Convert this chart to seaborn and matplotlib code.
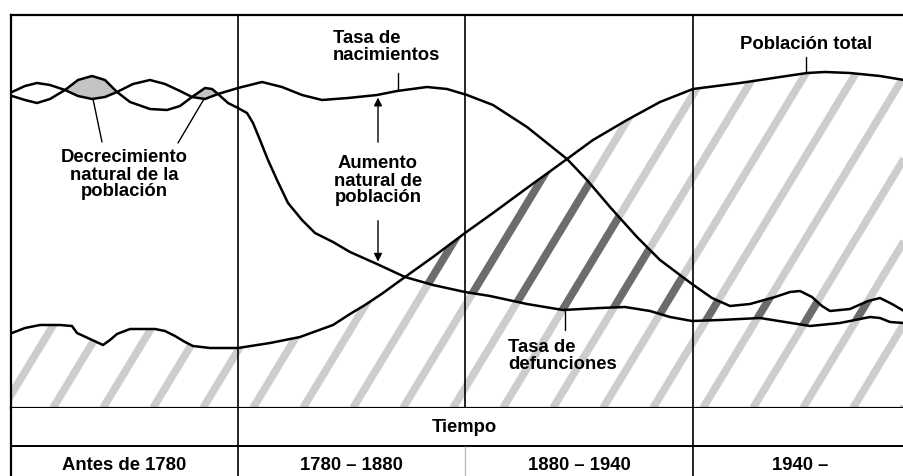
import numpy as np
import matplotlib
matplotlib.use('Agg')
import matplotlib.pyplot as plt
import seaborn as sns
from matplotlib.path import Path

# =========================
# Data (generic time units on x, relative level on y)
# =========================
birth_x = [12, 25, 37, 50, 65, 78, 92, 105, 117, 133, 150, 165, 180, 192, 205, 218,
           238, 262, 282, 302, 322, 348, 377, 397, 427, 447, 467, 493, 527, 547, 567,
           587, 610, 637, 660, 692, 712, 730, 750, 775, 790, 800, 812, 822, 830, 850,
           868, 880, 892, 904]
birth_y = [316, 322, 325, 323, 318, 312, 309, 311, 316, 324, 328, 324, 317, 311, 309, 314,
           320, 326, 321, 313, 308, 310, 313, 317, 321, 319, 313, 303, 281, 265, 249,
           228, 201, 171, 148, 124, 110, 102, 104, 111, 116, 117, 111, 102, 97, 99,
           107, 110, 104, 97]

death_x = [12, 25, 37, 50, 65, 78, 92, 105, 117, 130, 150, 167, 180, 192, 205, 212,
           218, 228, 238, 247, 253, 260, 268, 277, 288, 302, 315, 333, 350, 377, 405,
           433, 465, 490, 527, 563, 600, 625, 650, 670, 692, 720, 760, 785, 810, 840,
           870, 880, 890, 904]
death_y = [312, 308, 305, 309, 318, 328, 332, 328, 316, 306, 299, 298, 302, 311, 320, 319,
           314, 305, 300, 295, 285, 268, 248, 228, 205, 188, 175, 166, 156, 144, 131,
           123, 116, 112, 104, 98, 100, 101, 97, 91, 87, 88, 90, 86, 82, 85,
           91, 90, 86, 85]

pop_x = [12, 25, 40, 60, 72, 77, 90, 103, 110, 117, 130, 155, 165, 175, 185, 193,
         210, 238, 270, 300, 333, 350, 365, 383, 405, 433, 465, 493, 527, 567, 593,
         627, 660, 693, 740, 780, 807, 825, 850, 880, 904]
pop_y = [75, 80, 83, 83, 82, 75, 69, 63, 68, 74, 79, 79, 77, 72, 66, 62,
         60, 60, 65, 71, 83, 94, 103, 115, 131, 151, 175, 195, 220, 249, 268,
         288, 306, 319, 325, 331, 335, 336, 335, 332, 328]

period_edges = [238, 465, 693]
period_labels = ['Antes de 1780', '1780 – 1880', '1880 – 1940', '1940 –']
period_centers = [124, 351, 579, 800]

# =========================
# Figure setup
# =========================
sns.set_theme(style='white')
plt.rcParams['font.family'] = ['Liberation Sans', 'DejaVu Sans']
FS = 13.3

fig = plt.figure(figsize=(9.04, 4.76), dpi=100)
ax = fig.add_axes([11 / 904, 68 / 476, 893 / 904, 393 / 476])
ax.set_xlim(11, 904)
ax.set_ylim(0, 393)
ax.set_xticks([])
ax.set_yticks([])
for side in ['left', 'top', 'bottom']:
    ax.spines[side].set_color('black')
    ax.spines[side].set_linewidth(1.6)
ax.spines['right'].set_visible(False)

# common grid for shaded regions
xg = np.linspace(11, 904, 1500)
bg = np.interp(xg, birth_x, birth_y)
dg = np.interp(xg, death_x, death_y)
pg = np.interp(xg, pop_x, pop_y)

# clip regions for the hatching
pop_px = np.array(pop_x, dtype=float)
pop_py = np.array(pop_y, dtype=float)
light_path = Path(np.column_stack([np.r_[pop_px, pop_px[::-1]],
                                   np.r_[pop_py, np.zeros(len(pop_py))]]))
top = np.minimum(bg, pg)
coll = ax.fill_between(xg, dg, top, where=top > dg, interpolate=True,
                       facecolor='none', edgecolor='none')
dark_path = Path.make_compound_path(*coll.get_paths())

# diagonal stripes under the population curve
slope = 1.65
spacing = 50
for x0 in np.arange(53 - spacing * 6, 904 + spacing, spacing):
    xs = [x0, x0 + 393 / slope]
    ys = [0, 393]
    ln, = ax.plot(xs, ys, color='#cdcdcd', lw=5.5, solid_capstyle='butt', zorder=1)
    ln.set_clip_path(light_path, ax.transData)
    ln2, = ax.plot(xs, ys, color='#6c6c6c', lw=5.5, solid_capstyle='butt', zorder=1.1)
    ln2.set_clip_path(dark_path, ax.transData)

# natural decrease lenses
ax.fill_between(xg, bg, dg, where=(dg > bg) & (xg < 238), interpolate=True,
                color='#c4c4c4', linewidth=0, zorder=1.5)

# curves
for cx, cy in [(birth_x, birth_y), (death_x, death_y), (pop_x, pop_y)]:
    sns.lineplot(x=cx, y=cy, ax=ax, color='black', lw=1.8, estimator=None,
                 sort=False, zorder=4, solid_joinstyle='round')

for xe in period_edges:
    ax.axvline(xe, color='black', lw=1.2, zorder=3)

# =========================
# Annotations
# =========================
txt = dict(fontsize=FS, fontweight='bold', color='black', linespacing=1.0, zorder=5)

ax.text(333, 361, 'Tasa de\nnacimientos', ha='left', va='center', **txt)
ax.plot([398, 398], [335, np.interp(398, birth_x, birth_y)], color='black', lw=1, zorder=4)

ax.text(806, 364, 'Población total', ha='center', va='center', **txt)
ax.plot([806, 806], [351, np.interp(806, pop_x, pop_y)], color='black', lw=1, zorder=4)

ax.text(378, 227, 'Aumento\nnatural de\npoblación', ha='center', va='center', **txt)
ax.annotate('', xy=(378, np.interp(378, birth_x, birth_y)), xytext=(378, 263),
            arrowprops=dict(arrowstyle='-|>', color='black', lw=1, mutation_scale=12))
ax.annotate('', xy=(378, np.interp(378, death_x, death_y)), xytext=(378, 190),
            arrowprops=dict(arrowstyle='-|>', color='black', lw=1, mutation_scale=12))

ax.text(124, 233, 'Decrecimiento\nnatural de la\npoblación', ha='center', va='center', **txt)
ax.plot([93, 102], [309, 266], color='black', lw=1, zorder=4)
ax.plot([204, 178], [309, 265], color='black', lw=1, zorder=4)

ax.text(508, 52, 'Tasa de\ndefunciones', ha='left', va='center', **txt)
ax.plot([565, 565], [78, np.interp(565, death_x, death_y)], color='black', lw=1, zorder=4)

# =========================
# Time table below the chart
# =========================
tab = fig.add_axes([11 / 904, 0, 893 / 904, 68 / 476])
tab.set_xlim(11, 904)
tab.set_ylim(0, 68)
tab.set_xticks([])
tab.set_yticks([])
for side in ['top', 'bottom', 'right']:
    tab.spines[side].set_visible(False)
tab.spines['left'].set_color('black')
tab.spines['left'].set_linewidth(1.6)
tab.axhline(30, color='black', lw=1.4)
tab.vlines([period_edges[0], period_edges[2]], 0, 68, color='black', lw=1.2)
tab.vlines(period_edges[1], 0, 30, color='#bbbbbb', lw=1)
tab.text(464, 48, 'Tiempo', ha='center', va='center', **txt)
for cx, lab in zip(period_centers, period_labels):
    tab.text(cx, 10, lab, ha='center', va='center', **txt)

fig.savefig('out.png', dpi=100)
